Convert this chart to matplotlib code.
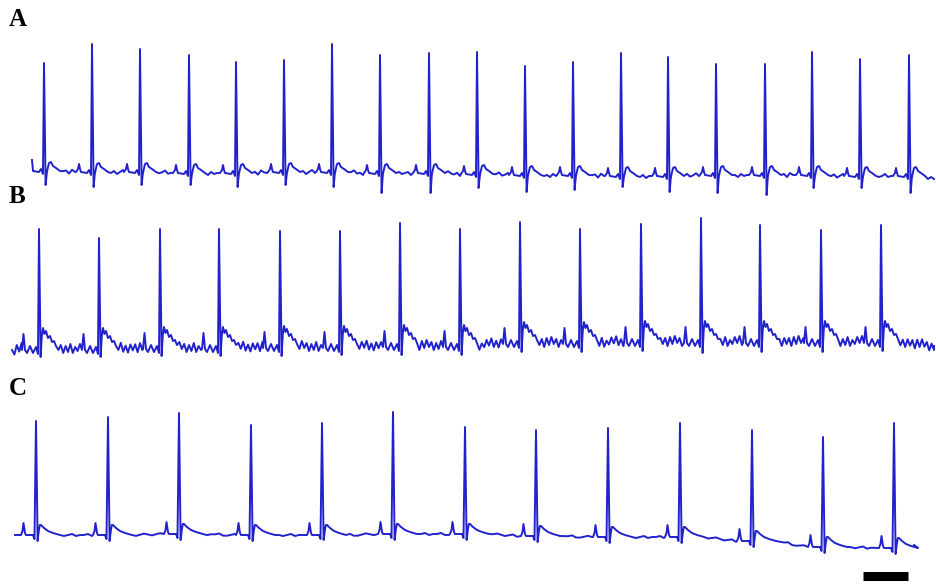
import numpy as np
import matplotlib
matplotlib.use('Agg')
import matplotlib.pyplot as plt

# all positions are in picture pixels (y grows downward)

# --- trace A ---
a_beats = [44, 92, 140, 189, 236, 284, 332, 380, 429, 477, 525, 573, 621, 668, 716, 765, 812, 860, 909]
a_peaks = [63, 44, 49, 55, 62, 60, 44, 55, 53, 52, 66, 62, 53, 57, 64, 64, 52, 59, 55]
a_dips = [185, 187, 185, 185, 187, 185, 187, 193, 193, 188, 192, 190, 187, 192, 193, 195, 188, 188, 193]
a_base = [171, 172, 172, 173, 173, 172, 172, 173, 173, 174, 175, 175, 176, 176, 175, 175, 175, 176, 176]
a_start, a_end = (32, 160), (934, 179)
a_wiggle = [0, -1, 2, -2, 0, 1, -1, 2, 0, -2, 1, 0, -2, 1, 0, 2, -1, 1]
a_shape = [(-16, 0), (-14, -3), (-13, -8), (-12, -3), (-11, 0), (-5, 1), (-3, -2), (-1, 3),
           (0, 'R'), (1.6, 'S'), (2.8, 2), (3.8, -3), (5, -8), (7, -9), (9, -5), (12, -3), (16, 0)]

# --- trace B ---
b_beats = [39, 99, 160, 219, 280, 340, 400, 460, 520, 580, 641, 701, 760, 821, 881]
b_peaks = [229, 238, 229, 229, 231, 231, 223, 229, 222, 229, 224, 218, 225, 230, 225]
b_dips = [357, 357, 356, 356, 356, 355, 355, 355, 352, 352, 351, 353, 352, 352, 351]
b_base = [348, 348, 347, 347, 346, 346, 345, 345, 342, 342, 341, 341, 341, 341, 341]
b_start, b_end = (12, 350), (934, 346)
b_wiggle = [5, -4, 3, -5, 2, -3, 5, -2, 4, -4, 5, -1, 3, -4, 2, -5, 4, -2, 5, -3, 3, -3]
b_shape = [(-17, 2), (-15.5, -14), (-14, 2), (-12, 5), (-9, -2), (-6, 5), (-3, -1), (-1, 6),
           (0, 'R'), (1.6, 'S'), (2.8, -12), (4, -20), (5.5, -14), (7, -17), (9, -10),
           (11, -12), (13, -6), (15, -7), (17, -2)]

# --- trace C ---
c_beats = [36, 108, 179, 251, 322, 393, 465, 536, 608, 680, 752, 823, 894]
c_peaks = [421, 417, 413, 425, 423, 412, 427, 430, 428, 423, 430, 437, 423]
c_dips = [541, 541, 540, 541, 540, 540, 540, 542, 543, 543, 547, 553, 554]
c_base = [535, 535, 534, 535, 535, 534, 534, 536, 537, 537, 541, 547, 548]
c_start, c_end = (15, 535), (914, 545)
c_wiggle = [0, 1, 0, -1, 1, 0, 0, -1, 1, 1, 0, -1]
c_shape = [(-15, 0), (-13.5, -4), (-12.5, -12), (-11, -2), (-10, 0), (-3, 0), (-1.5, 4),
           (0, 'R'), (1.6, 'S'), (2.8, -4), (3.8, -10), (5, -10), (8, -7), (12, -4),
           (17, -2), (24, 0)]

labels = ['A', 'B', 'C']
label_pos = [(9, 26), (9, 203), (9, 395)]


def build(beats, peaks, dips, base, shape, start, end, wig, step):
    xs, ys = [start[0]], [start[1]]
    px, pb = start
    k = 0
    for bx, pk, sd, b in zip(beats, peaks, dips, base):
        first = bx + shape[0][0]
        for x in np.arange(px + step, first, step):
            f = (x - px) / (first - px)
            xs.append(x)
            ys.append(pb + f * (b - pb) + wig[k % len(wig)])
            k += 1
        for dx, dy in shape:
            if bx + dx <= start[0]:
                continue
            xs.append(bx + dx)
            ys.append(pk if dy == 'R' else sd if dy == 'S' else b + dy)
        px, pb = bx + shape[-1][0], b
    for x in np.arange(px + step, end[0], step):
        f = (x - px) / (end[0] - px)
        xs.append(x)
        ys.append(pb + f * (end[1] - pb) + wig[k % len(wig)])
        k += 1
    xs.append(end[0])
    ys.append(end[1])
    return xs, ys


fig = plt.figure(figsize=(9.36, 5.84), dpi=100)
ax = fig.add_axes([0, 0, 1, 1])
ax.set_xlim(0, 936)
ax.set_ylim(584, 0)
ax.axis('off')

traces = [
    (a_beats, a_peaks, a_dips, a_base, a_shape, a_start, a_end, a_wiggle, 3),
    (b_beats, b_peaks, b_dips, b_base, b_shape, b_start, b_end, b_wiggle, 2.4),
    (c_beats, c_peaks, c_dips, c_base, c_shape, c_start, c_end, c_wiggle, 4),
]
for tr in traces:
    xs, ys = build(*tr)
    ax.plot(xs, ys, color='#2222cc', lw=1.4, solid_joinstyle='round')

for lab, (lx, ly) in zip(labels, label_pos):
    ax.text(lx, ly, lab, fontsize=18, fontweight='bold', family='Liberation Serif',
            va='baseline', ha='left', color='black')

# scale bar
ax.plot([863, 908], [576, 576], color='black', lw=6.5, solid_capstyle='butt')

fig.savefig('out.png', dpi=100)
